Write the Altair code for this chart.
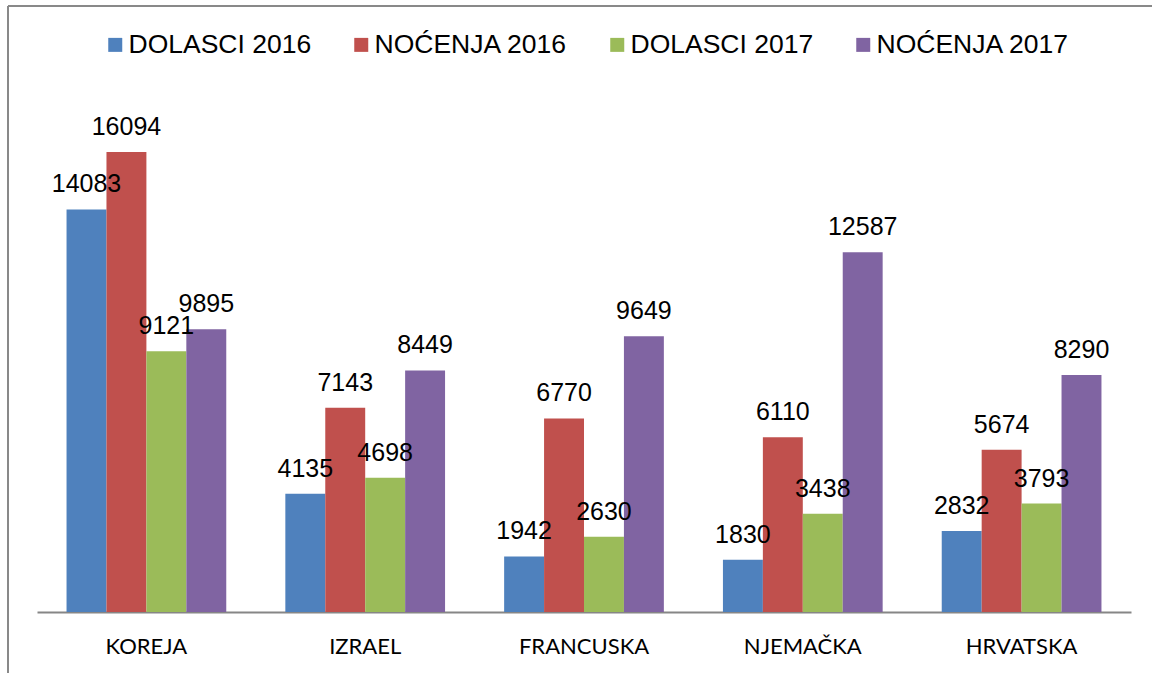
import altair as alt
import pandas as pd

categories = ["KOREJA", "IZRAEL", "FRANCUSKA", "NJEMAČKA", "HRVATSKA"]
series = ["DOLASCI 2016", "NOĆENJA 2016", "DOLASCI 2017", "NOĆENJA 2017"]
dolasci_2016 = [14083, 4135, 1942, 1830, 2832]
nocenja_2016 = [16094, 7143, 6770, 6110, 5674]
dolasci_2017 = [9121, 4698, 2630, 3438, 3793]
nocenja_2017 = [9895, 8449, 9649, 12587, 8290]
colors = ["#4F81BD", "#C0504D", "#9BBB59", "#8064A2"]

rows = []
for s, vals in zip(series, [dolasci_2016, nocenja_2016, dolasci_2017, nocenja_2017]):
    for c, v in zip(categories, vals):
        rows.append({"zemlja": c, "serija": s, "vrijednost": v})
df = pd.DataFrame(rows)

W, H = 1094, 514.5
PL, PT = 37, 97.5

x_enc = alt.X("zemlja:N", sort=categories,
              scale=alt.Scale(paddingInner=0.27, paddingOuter=0.135),
              axis=alt.Axis(title=None, labelAngle=0, ticks=False, domainColor="#868686",
                            domainWidth=2, labelFont="Lato", labelFontSize=22,
                            labelColor="#000000", labelPadding=24))
xo_enc = alt.XOffset("serija:N", sort=series, scale=alt.Scale(paddingInner=0, paddingOuter=0))
y_enc = alt.Y("vrijednost:Q", scale=alt.Scale(domain=[0, 18000], nice=False), axis=None)

bars = alt.Chart(df).mark_bar().encode(
    x=x_enc, xOffset=xo_enc, y=y_enc,
    color=alt.Color("serija:N", sort=series, scale=alt.Scale(domain=series, range=colors),
                    legend=alt.Legend(title=None, orient="none", direction="horizontal",
                                      legendX=65, legendY=-66, symbolType="square",
                                      symbolSize=196, symbolStrokeWidth=0,
                                      labelFont="Liberation Sans", labelFontSize=26.5,
                                      labelColor="#000000", labelOffset=0,
                                      columnPadding=36, labelLimit=400)),
)

labels = alt.Chart(df).mark_text(font="Liberation Sans", fontSize=25, color="#000000",
                                 baseline="alphabetic", dy=-17).encode(
    x=x_enc, xOffset=xo_enc, y=y_enc, text="vrijednost:Q")

one = pd.DataFrame({"a": [0]})
left_line = alt.Chart(one).mark_rule(color="#898989", strokeWidth=2).encode(
    x=alt.value(8 - PL), y=alt.value(6 - PT), y2=alt.value(673 - PT))
top_line = alt.Chart(one).mark_rule(color="#898989", strokeWidth=2).encode(
    x=alt.value(8 - PL), x2=alt.value(1152 - PL), y=alt.value(6 - PT))

chart = alt.layer(bars, labels, left_line, top_line).properties(
    width=W, height=H,
    autosize=alt.AutoSizeParams(type="none"),
    padding={"left": PL, "top": PT, "right": 1152 - PL - W, "bottom": 673 - PT - H},
    background="white",
).configure_view(stroke=None)

chart.save("out.html", embed_options={"renderer": "svg", "actions": False})
